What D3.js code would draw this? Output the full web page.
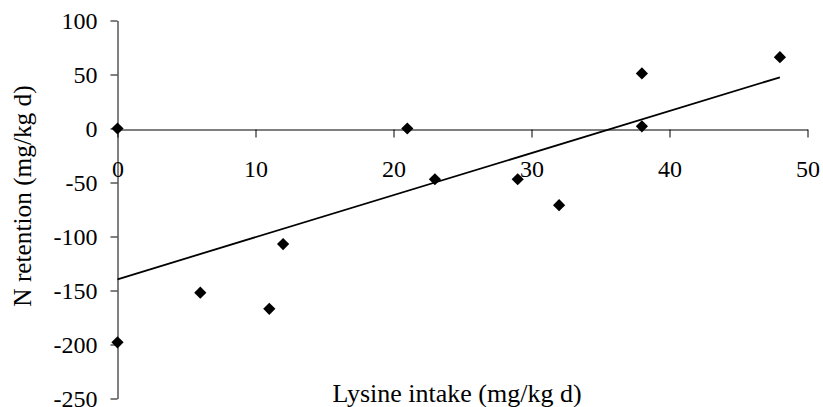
<!DOCTYPE html>
<html>
<head>
<meta charset="utf-8">
<script src="https://cdn.jsdelivr.net/npm/d3@7"></script>
<style>
  body { margin: 0; background: #fff; }
  svg text { font-family: "Liberation Serif", "Times New Roman", serif; fill: #000; }
</style>
</head>
<body>
<svg id="chart"></svg>
<script>
// Lysine intake (x) vs N retention (y)
var lysine = [0, 0, 6, 11, 12, 21, 23, 29, 32, 38, 38, 48];
var retention = [0, -198, -152, -167, -107, 0, -47, -47, -71, 51, 2, 66];
// linear trend endpoints
var trendX = [0, 48];
var trendY = [-139.6, 47.4];
var xTicks = [0, 10, 20, 30, 40, 50];
var yTicks = [-250, -200, -150, -100, -50, 0, 50, 100];

var W = 823, H = 407;
var m = { left: 117.5, right: 15.5, top: 20.5, bottom: 8.5 };

var svg = d3.select("#chart")
    .attr("width", W)
    .attr("height", H);

var x = d3.scaleLinear()
    .domain([0, 50])
    .range([m.left, W - m.right]);
var y = d3.scaleLinear()
    .domain([-250, 100])
    .range([H - m.bottom, m.top]);

var tickFont = 24;
var plain = function (d) { return String(d); }; // hyphen minus, like the original

// Y axis
var yAxis = d3.axisLeft(y)
    .tickValues(yTicks)
    .tickSize(7)
    .tickSizeOuter(0)
    .tickPadding(13)
    .tickFormat(plain);
var gY = svg.append("g")
    .attr("transform", "translate(" + m.left + ",0)")
    .call(yAxis);
gY.selectAll("text")
    .style("font-size", tickFont + "px")
    .attr("dy", "0.34em");

// X axis sits on y = 0
var xAxis = d3.axisBottom(x)
    .tickValues(xTicks)
    .tickSize(8)
    .tickSizeOuter(0)
    .tickFormat(plain);
var gX = svg.append("g")
    .attr("transform", "translate(0," + Math.round(y(0)) + ".5)")
    .call(xAxis);
gX.selectAll("text")
    .style("font-size", tickFont + "px")
    .attr("y", 47.5)
    .attr("dy", 0);

svg.selectAll("g").attr("font-family", null).attr("font-size", null);
svg.selectAll(".domain, .tick line")
    .attr("stroke", "#000")
    .attr("stroke-width", 1);

// trend line
var line = d3.line()
    .x(function (d, i) { return x(trendX[i]); })
    .y(function (d) { return y(d); });
svg.append("path")
    .attr("d", line(trendY))
    .attr("fill", "none")
    .attr("stroke", "#000")
    .attr("stroke-width", 1.8);

// diamond markers
var diamond = d3.symbol().type(d3.symbolDiamond2).size(95);
svg.selectAll(".pt")
    .data(lysine)
    .enter().append("path")
    .attr("class", "pt")
    .attr("d", diamond)
    .attr("transform", function (d, i) {
        return "translate(" + x(d) + "," + y(retention[i]) + ")";
    })
    .attr("fill", "#000");

// axis titles
svg.append("text")
    .attr("x", 457)
    .attr("y", 402)
    .attr("text-anchor", "middle")
    .style("font-size", "26px")
    .text("Lysine intake (mg/kg d)");

svg.append("text")
    .attr("transform", "translate(31,196) rotate(-90)")
    .attr("text-anchor", "middle")
    .style("font-size", "25.3px")
    .text("N retention (mg/kg d)");
</script>
</body>
</html>
